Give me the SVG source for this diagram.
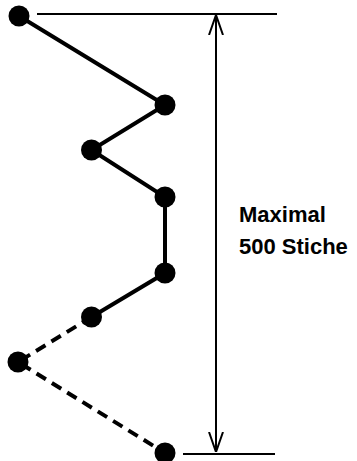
<svg xmlns="http://www.w3.org/2000/svg" width="357" height="461" viewBox="0 0 357 461">
<style>
.stitch{stroke:#000;stroke-width:4;fill:none;stroke-linecap:butt}
.dash{stroke-dasharray:11 7}
.dim{stroke:#000;stroke-width:2;fill:none}
.node{fill:#000}
.label{font-family:"Liberation Sans",Arial,sans-serif;font-weight:bold;font-size:22px;fill:#000}
</style>
<defs>
<marker id="open" viewBox="0 0 20 16" refX="20" refY="8" markerWidth="20" markerHeight="16" markerUnits="userSpaceOnUse" orient="auto">
<path d="M0,1 L20,8 L0,15" fill="none" stroke="#000" stroke-width="2"/>
</marker>
</defs>
<g id="connectors">
<polyline class="stitch" points="19,16 165,105 91.5,150 165,197 165,273 91.5,317"/>
<polyline class="stitch dash" points="91.5,317 18,362 165,453"/>
<line class="dim" x1="37" y1="14" x2="277" y2="14"/>
<line class="dim" x1="183" y1="454" x2="275" y2="454"/>
<line class="dim" x1="216" y1="234" x2="216" y2="15" marker-end="url(#open)"/>
<line class="dim" x1="216" y1="234" x2="216" y2="452" marker-end="url(#open)"/>
</g>
<g id="n1"><circle class="node" cx="19" cy="16" r="10.5"/></g>
<g id="n2"><circle class="node" cx="165" cy="105" r="10.5"/></g>
<g id="n3"><circle class="node" cx="91.5" cy="150" r="10.5"/></g>
<g id="n4"><circle class="node" cx="165" cy="197" r="10.5"/></g>
<g id="n5"><circle class="node" cx="165" cy="273" r="10.5"/></g>
<g id="n6"><circle class="node" cx="91.5" cy="317" r="10.5"/></g>
<g id="n7"><circle class="node" cx="18" cy="362" r="10.5"/></g>
<g id="n8"><circle class="node" cx="165" cy="453" r="10.5"/></g>
<g id="label">
<text class="label" x="239" y="222">Maximal</text>
<text class="label" x="239" y="254">500 Stiche</text>
</g>
</svg>
